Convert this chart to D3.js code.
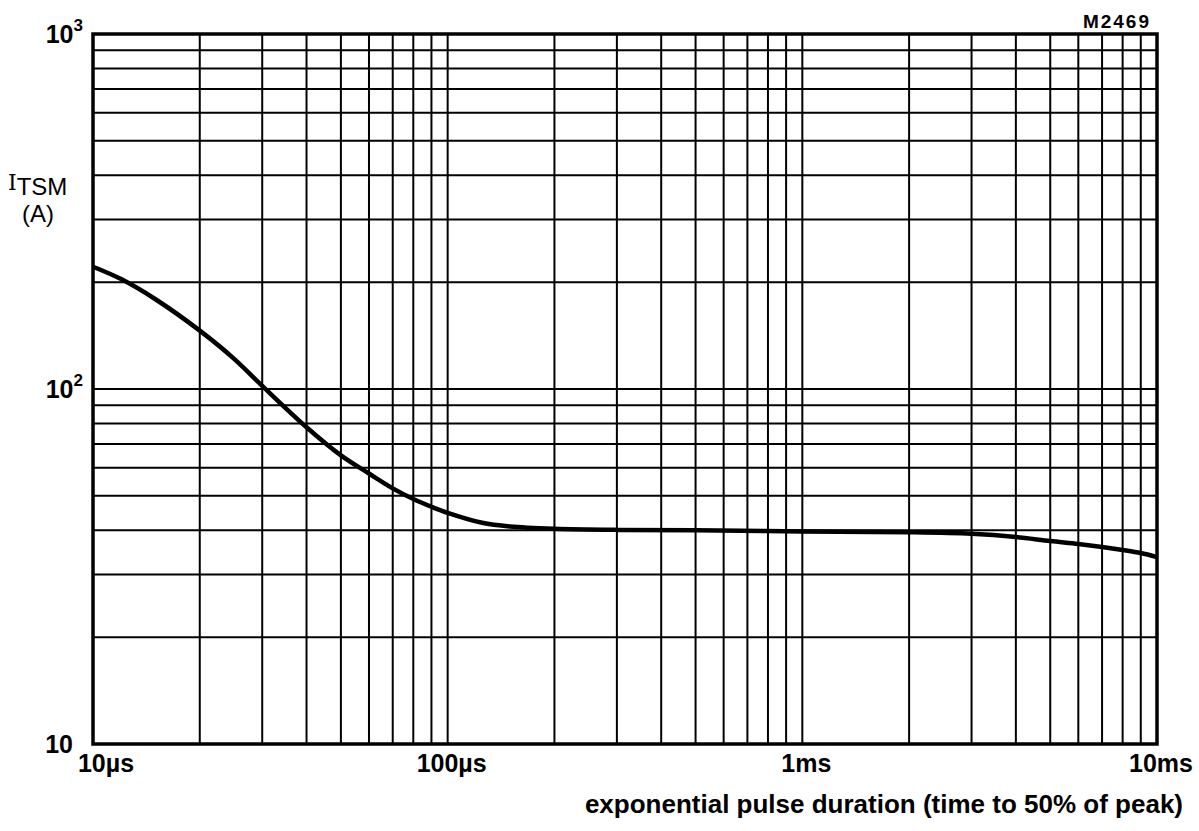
<!DOCTYPE html>
<html lang="en">
<head>
    <meta charset="UTF-8">
    <title>ITSM vs exponential pulse duration</title>
    <script src="https://d3js.org/d3.v7.min.js"></script>
    <style>
        body {
            margin: 0;
            background: #fff;
        }
        svg {
            display: block;
            font-family: "Liberation Sans", Arial, sans-serif;
        }
        .lbl {
            font-size: 25px;
            font-weight: bold;
            fill: #000;
        }
    </style>
</head>
<body>
    <svg width="1199" height="831"></svg>

    <script>
        // pulse duration in microseconds, surge current in A
        const durations = [10, 12, 15, 20, 25, 30, 40, 50, 60, 70, 80, 90, 100, 125, 150, 200, 300, 500, 1000, 2000, 3000, 4000, 5000, 6000, 7000, 8000, 9000, 10000];
        const currents = [221, 204, 179, 146, 121.6, 102, 78, 65, 57.8, 52.5, 49, 46.6, 44.8, 42, 41, 40.4, 40.1, 40, 39.7, 39.5, 39.1, 38.3, 37.3, 36.6, 35.9, 35.2, 34.5, 33.6];

        const xTickValues = [10, 100, 1000, 10000];
        const xTickLabels = ["10\u00b5s", "100\u00b5s", "1ms", "10ms"];
        const yTickValues = [10, 100, 1000];
        const yTickBases = ["10", "10", "10"];
        const yTickExps = ["", "2", "3"];

        const svg = d3.select("svg");
        const plotL = 93, plotT = 34, plotR = 1157, plotB = 744;

        const x = d3.scaleLog().domain([10, 10000]).range([plotL, plotR]);
        const y = d3.scaleLog().domain([10, 1000]).range([plotB, plotT]);

        // grid
        const grid = svg.append("g").attr("stroke", "#000").attr("stroke-width", 2);
        grid.selectAll(".vx")
            .data(x.ticks())
            .join("line")
            .attr("x1", d => x(d)).attr("x2", d => x(d))
            .attr("y1", plotT).attr("y2", plotB);
        grid.selectAll(".hy")
            .data(y.ticks())
            .join("line")
            .attr("x1", plotL).attr("x2", plotR)
            .attr("y1", d => y(d)).attr("y2", d => y(d));

        svg.append("rect")
            .attr("x", plotL).attr("y", plotT)
            .attr("width", plotR - plotL).attr("height", plotB - plotT)
            .attr("fill", "none").attr("stroke", "#000").attr("stroke-width", 3.5);

        // curve
        const line = d3.line()
            .x((d, i) => x(durations[i]))
            .y(d => y(d))
            .curve(d3.curveCatmullRom.alpha(0.5));

        svg.append("path")
            .datum(currents)
            .attr("d", line)
            .attr("fill", "none")
            .attr("stroke", "#000")
            .attr("stroke-width", 4.5)
            .attr("stroke-linejoin", "round");

        // x tick labels
        svg.selectAll(".xl")
            .data(xTickValues)
            .join("text")
            .attr("class", "lbl")
            .attr("x", (d, i) => x(d) + (i === 0 ? 13 : 4))
            .attr("y", 772)
            .attr("text-anchor", "middle")
            .text((d, i) => xTickLabels[i]);

        // y tick labels
        const yl = svg.selectAll(".yl")
            .data(yTickValues)
            .join("text")
            .attr("class", "lbl")
            .attr("x", (d, i) => yTickExps[i] ? 83 : 73)
            .attr("y", d => y(d) + 9)
            .attr("text-anchor", "end");
        yl.append("tspan").text((d, i) => yTickBases[i]);
        yl.append("tspan")
            .attr("dy", -12)
            .style("font-size", "17px")
            .text((d, i) => yTickExps[i]);

        // y axis title
        const yt = svg.append("text").attr("x", 8).attr("y", 190).style("font-size", "24px");
        yt.append("tspan").style("font-family", "'DejaVu Serif', serif").style("font-size", "22px").text("I");
        yt.append("tspan").attr("dy", 5).text("TSM");
        svg.append("text").attr("x", 22).attr("y", 222).style("font-size", "24px").text("(A)");

        // x axis title
        svg.append("text")
            .attr("class", "lbl")
            .style("font-size", "26px")
            .attr("x", 1183).attr("y", 813)
            .attr("text-anchor", "end")
            .text("exponential pulse duration (time to 50% of peak)");

        svg.append("text")
            .attr("x", 1151).attr("y", 28)
            .attr("text-anchor", "end")
            .style("font-size", "19px").style("font-weight", "bold")
            .style("letter-spacing", "2px")
            .text("M2469");
    </script>
</body>
</html>
